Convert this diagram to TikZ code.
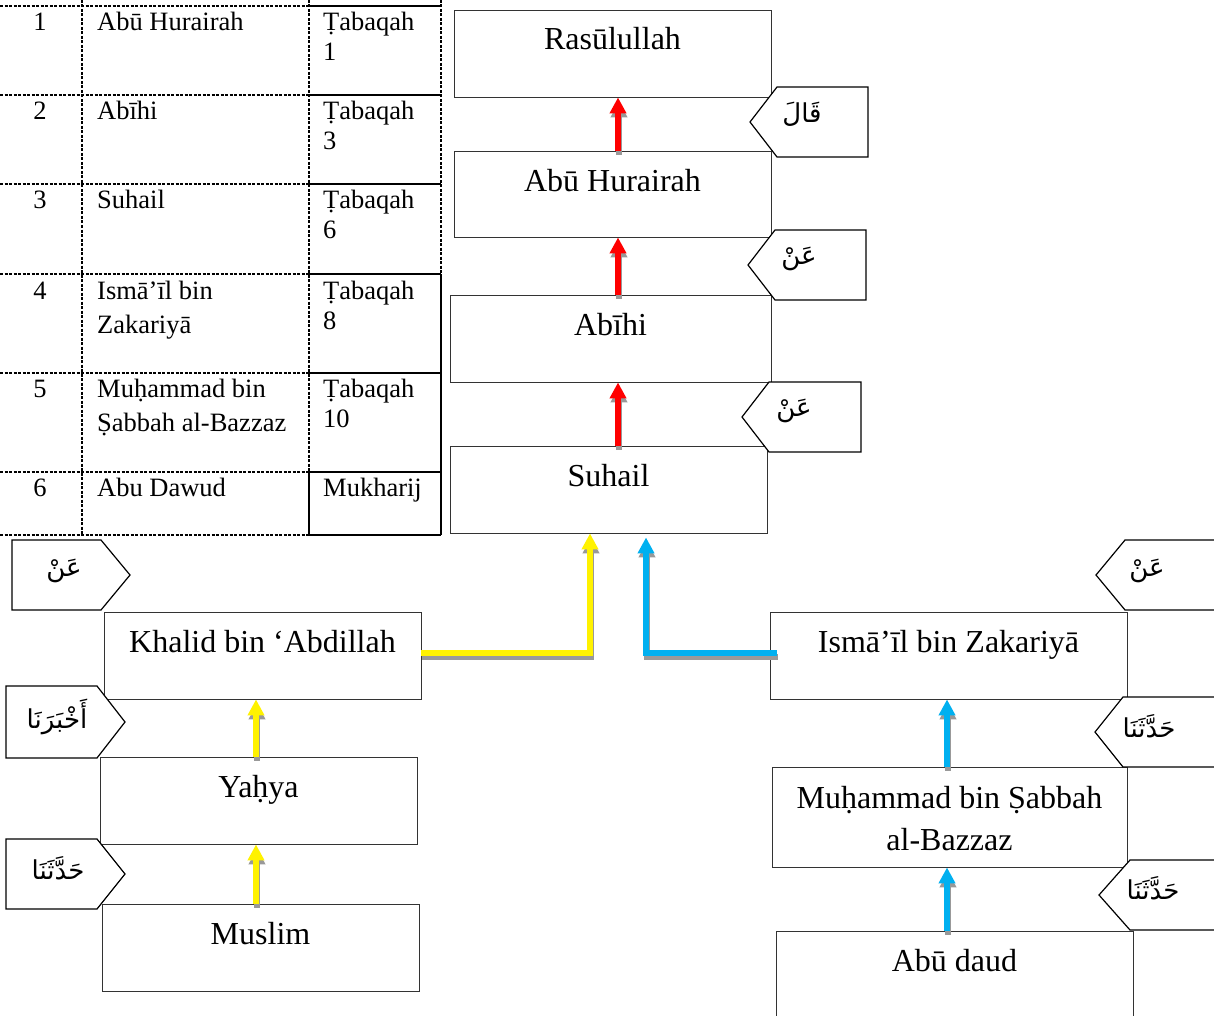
\documentclass[tikz,border=0pt]{standalone}
\usepackage{fontspec}
\setmainfont{Liberation Serif}
\newfontfamily\arabicfont[Script=Arabic]{DejaVu Sans}
\TeXXeTstate=1
\usetikzlibrary{arrows.meta}
\definecolor{skyblue}{RGB}{0,176,240}
\newcommand\lefttag[5]{\draw[tagshape] (#2,#4) -- (#3,#4) -- (#3,#5) -- (#2,#5) -- (#1,{(#4+#5)/2}) -- cycle;}
\newcommand\righttag[5]{\draw[tagshape] (#1,#4) -- (#2,#4) -- (#3,{(#4+#5)/2}) -- (#2,#5) -- (#1,#5) -- cycle;}
\begin{document}
\begin{tikzpicture}[x=1pt,y=-1pt,
  box/.style={draw=black!80, line width=0.9pt, fill=white, inner sep=0},
  bt/.style={font=\fontsize{32}{40}\selectfont, inner sep=0, anchor=base},
  tb/.style={font=\fontsize{26.5}{30}\selectfont, inner sep=0, anchor=base west},
  tbn/.style={font=\fontsize{26.5}{30}\selectfont, inner sep=0, anchor=base},
  tdash/.style={line width=1.5pt, dash pattern=on 3pt off 1.5pt},
  tsolid/.style={line width=1.5pt},
  tagshape/.style={draw=black, line width=1.2pt, fill=white},
  arab/.style={font=\arabicfont\fontsize{26}{30}\selectfont, inner sep=0},
  arr/.style={line width=5.5pt, -{Triangle[width=16pt,length=16pt]}},
  shd/.style={draw=black!40, transform canvas={xshift=1pt,yshift=-4pt}},
]
\useasboundingbox (0,0) rectangle (1214,1016);
\clip (0,0) rectangle (1214,1016);
\fill[white] (0,0) rectangle (1214,1016);

% ---------- table ----------
\foreach \y in {6,95,184,274,373,472,535}{
  \draw[tdash] (0,\y) -- (309,\y);
  \draw[tsolid] (309,\y) -- (441,\y);
}
\draw[tdash] (82,0) -- (82,535);
\draw[tdash] (309,0) -- (309,472);
\draw[tsolid] (309,472) -- (309,535);
\draw[tdash] (441,0) -- (441,274);
\draw[tsolid] (441,274) -- (441,535);

\node[tbn] (n1) at (40,31) {1};
\node[tb] (m1) at (97,31) {Abū Hurairah};
\node[tb] (k1a) at (323,31) {Ṭabaqah};
\node[tb] (k1b) at (323,61) {1};

\node[tbn] (n2) at (40,120) {2};
\node[tb] (m2) at (97,120) {Abīhi};
\node[tb] (k2a) at (323,120) {Ṭabaqah};
\node[tb] (k2b) at (323,150) {3};

\node[tbn] (n3) at (40,209) {3};
\node[tb] (m3) at (97,209) {Suhail};
\node[tb] (k3a) at (323,209) {Ṭabaqah};
\node[tb] (k3b) at (323,239) {6};

\node[tbn] (n4) at (40,299) {4};
\node[tb] (m4a) at (97,299) {Ismā’īl bin};
\node[tb] (m4b) at (97,333) {Zakariyā};
\node[tb] (k4a) at (323,299) {Ṭabaqah};
\node[tb] (k4b) at (323,329) {8};

\node[tbn] (n5) at (40,397) {5};
\node[tb] (m5a) at (97,397) {Muḥammad bin};
\node[tb] (m5b) at (97,431) {Ṣabbah al-Bazzaz};
\node[tb] (k5a) at (323,397) {Ṭabaqah};
\node[tb] (k5b) at (323,427) {10};

\node[tbn] (n6) at (40,496) {6};
\node[tb] (m6) at (97,496) {Abu Dawud};
\node[tb] (k6) at (323,496) {Mukharij};

% ---------- boxes ----------
\node[box, minimum width=317, minimum height=87] (rasul) at (612.5,53.5) {};
\node[box, minimum width=317, minimum height=86] (abu) at (612.5,194) {};
\node[box, minimum width=321, minimum height=87] (abihi) at (610.5,338.5) {};
\node[box, minimum width=317, minimum height=87] (suhail) at (608.5,489.5) {};
\node[box, minimum width=317, minimum height=87] (khalid) at (262.5,655.5) {};
\node[box, minimum width=317, minimum height=87] (yahya) at (258.5,800.5) {};
\node[box, minimum width=317, minimum height=87] (muslim) at (260.5,947.5) {};
\node[box, minimum width=357, minimum height=87] (ismail) at (948.5,655.5) {};
\node[box, minimum width=355, minimum height=100] (muhammad) at (949.5,817) {};
\node[box, minimum width=357, minimum height=87] (abudaud) at (954.5,974.5) {};

\node[bt] (trasul) at ([yshift=-40pt]rasul.north) {Rasūlullah};
\node[bt] (tabu) at ([yshift=-41pt]abu.north) {Abū Hurairah};
\node[bt] (tabihi) at ([yshift=-41pt]abihi.north) {Abīhi};
\node[bt] (tsuhail) at ([yshift=-41pt]suhail.north) {Suhail};
\node[bt] (tkhalid) at ([yshift=-41pt]khalid.north) {Khalid bin ‘Abdillah};
\node[bt] (tyahya) at ([yshift=-41pt]yahya.north) {Yaḥya};
\node[bt] (tmuslim) at ([yshift=-41pt]muslim.north) {Muslim};
\node[bt] (tismail) at ([yshift=-41pt]ismail.north) {Ismā’īl bin Zakariyā};
\node[bt] (tmuh1) at ([yshift=-42pt]muhammad.north) {Muḥammad bin Ṣabbah};
\node[bt] (tmuh2) at ([yshift=-84pt]muhammad.north) {al-Bazzaz};
\node[bt] (tabudaud) at ([yshift=-41pt]abudaud.north) {Abū daud};

% ---------- tags ----------
\lefttag{750}{777}{868}{87}{157}
\lefttag{748}{775}{866}{230}{300}
\lefttag{742}{769}{861}{382}{452}
\lefttag{1096}{1125}{1220}{540}{610}
\lefttag{1095}{1123}{1220}{697}{767}
\lefttag{1099}{1130}{1220}{860}{930}
\righttag{12}{101}{130}{540}{610}
\righttag{6}{97}{125}{686}{758}
\righttag{6}{97}{125}{839}{909}

\node[arab] (qala) at (802,114) {\beginR قَالَ\endR};
\node[arab] (an1) at (799,259) {\beginR عَنْ\endR};
\node[arab] (an2) at (794,411) {\beginR عَنْ\endR};
\node[arab] (an3) at (64,571) {\beginR عَنْ\endR};
\node[arab] (akh) at (57,717) {\beginR أَخْبَرَنَا\endR};
\node[arab] (had1) at (58,868) {\beginR حَدَّثَنَا\endR};
\node[arab] (an4) at (1147,571) {\beginR عَنْ\endR};
\node[arab] (had2) at (1149,726) {\beginR حَدَّثَنَا\endR};
\node[arab] (had3) at (1153,888) {\beginR حَدَّثَنَا\endR};

% ---------- arrows ----------
\coordinate (redx) at (618,0);
\coordinate (yelx) at (256,0);
\coordinate (blux) at (947,0);
\coordinate (ly) at (0,653);
\coordinate (yelup) at ([xshift=-18.5pt]suhail.south);
\coordinate (bluup) at ([xshift=37.5pt,yshift=-4pt]suhail.south);
\coordinate (bluin) at ([xshift=7pt]ismail.west);

\foreach \a/\b in {abu/rasul,abihi/abu,suhail/abihi}{
  \draw[arr,shd] (\a.north -| redx) -- (\b.south -| redx);
  \draw[arr,red] (\a.north -| redx) -- (\b.south -| redx);
}
\foreach \a/\b in {yahya/khalid,muslim/yahya}{
  \draw[arr,shd] (\a.north -| yelx) -- (\b.south -| yelx);
  \draw[arr,yellow] (\a.north -| yelx) -- (\b.south -| yelx);
}
\foreach \a/\b in {muhammad/ismail,abudaud/muhammad}{
  \draw[arr,shd] (\a.north -| blux) -- (\b.south -| blux);
  \draw[arr,skyblue] (\a.north -| blux) -- (\b.south -| blux);
}
\draw[arr,shd] (khalid.east |- ly) -| (yelup);
\draw[arr,yellow] (khalid.east |- ly) -| (yelup);
\draw[arr,shd] (bluin |- ly) -| (bluup);
\draw[arr,skyblue] (bluin |- ly) -| (bluup);
\end{tikzpicture}
\end{document}
